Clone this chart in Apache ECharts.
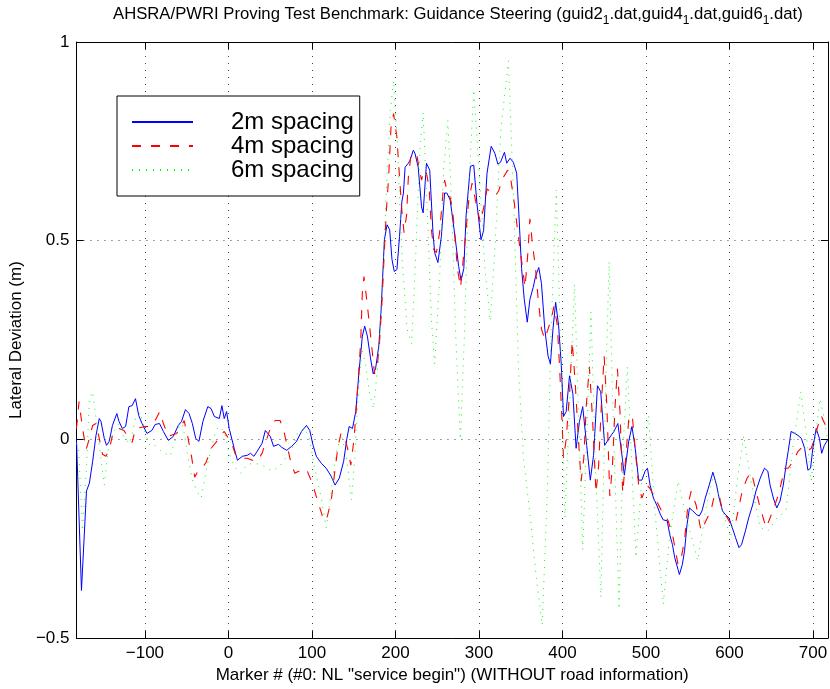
<!DOCTYPE html>
<html>
<head>
<meta charset="utf-8">
<script src="https://cdn.jsdelivr.net/npm/echarts@6/dist/echarts.min.js"></script>
<style>
  html, body { margin: 0; padding: 0; background: #fff; }
  #chart { width: 830px; height: 689px; }
</style>
</head>
<body>
<div id="chart"></div>
<script>
// Lateral deviation (m) against marker number, one list per marker spacing.
const spacing2m = [
  [-182, 0.0], [-176, -0.38], [-170, -0.13], [-166.5, -0.11], [-162.6, -0.055], [-158.6, 0.01],
  [-154.7, 0.0525], [-152.6, 0.045], [-148.7, 0.0025], [-146, -0.015], [-142.8, -0.005], [-138.9, 0.035],
  [-133.7, 0.065], [-131, 0.045], [-127.1, 0.0275], [-123.1, 0.0325], [-119.2, 0.0825], [-115.3, 0.085],
  [-111.3, 0.1025], [-107.4, 0.06], [-103.5, 0.04], [-97.6, 0.015], [-91.7, 0.0225], [-87.7, 0.0375],
  [-82.6, 0.04], [-77.9, 0.02], [-72, -0.0025], [-66, 0.0075], [-60.1, 0.035], [-56.2, 0.045],
  [-51.5, 0.075], [-47.1, 0.065], [-43.2, 0.04], [-39.2, 0.0025], [-35.3, -0.005], [-30.6, 0.045],
  [-24.7, 0.0825], [-20.8, 0.0775], [-16.8, 0.0575], [-10.9, 0.0525], [-7.8, 0.085], [-5, 0.0525],
  [-2.2, 0.07], [0.9, 0.0275], [6.9, -0.0225], [10.8, -0.0525], [16.7, -0.0425], [22.6, -0.04],
  [26.5, -0.035], [30.5, -0.0425], [34.4, -0.03], [40.3, -0.01], [44.2, 0.0225], [46.2, 0.023],
  [50.1, 0.0075], [54.1, -0.0175], [60, -0.0125], [63.9, -0.02], [69.8, -0.0275], [75.7, -0.0175],
  [81.6, -0.005], [87.5, 0.02], [93.5, 0.035], [97.4, 0.0225], [101.4, -0.015], [105.3, -0.0425],
  [111.2, -0.06], [117.1, -0.0725], [123, -0.0925], [127.7, -0.115], [132.8, -0.0975], [138, -0.055],
  [141.9, 0.0025], [144.6, 0.0325], [148.6, 0.0275], [152.5, 0.07], [156.4, 0.17], [160.4, 0.26],
  [163.2, 0.285], [166.4, 0.26], [170.3, 0.2025], [173.4, 0.165], [176.2, 0.1775], [180.1, 0.235],
  [182.9, 0.3275], [185.3, 0.435], [186.8, 0.5025], [190, 0.54], [193.1, 0.5275], [195.9, 0.4525],
  [198.6, 0.4225], [201.8, 0.4275], [204.9, 0.51], [207.7, 0.5975], [209.6, 0.62], [211.6, 0.685],
  [215.5, 0.695], [217.5, 0.7025], [221.4, 0.7275], [223.4, 0.72], [227.3, 0.685], [231.3, 0.585],
  [233.2, 0.57], [237.2, 0.695], [241.1, 0.6775], [245, 0.52], [247, 0.47], [250.9, 0.445],
  [255, 0.51], [258.9, 0.62], [261.6, 0.62], [265.6, 0.6025], [270.3, 0.5275], [275.8, 0.435],
  [278.6, 0.4], [281.9, 0.43], [284.7, 0.565], [289.8, 0.6875], [293.8, 0.69], [297.7, 0.5925],
  [302.5, 0.5025], [305.6, 0.525], [309.7, 0.67], [314.7, 0.7375], [319.1, 0.72], [322.7, 0.6925],
  [325.9, 0.6975], [330.6, 0.7225], [333.3, 0.695], [337.3, 0.7075], [341.2, 0.6975], [345.2, 0.67],
  [347.9, 0.565], [351.1, 0.43], [354.3, 0.3525], [357.9, 0.295], [361.1, 0.3525], [365, 0.3825],
  [367.8, 0.41], [371.7, 0.4325], [374.9, 0.3925], [378.9, 0.2775], [382.8, 0.21], [385.6, 0.19],
  [388.7, 0.2775], [391.9, 0.345], [395.4, 0.2875], [398.6, 0.19], [401.3, 0.0575], [404.5, 0.07],
  [408.5, 0.16], [412.5, 0.115], [416.4, -0.0225], [420.4, 0.045], [424.3, 0.0825], [428.2, 0.0025],
  [433.4, -0.1025], [437.3, -0.04], [442, 0.135], [445.9, 0.12], [450.6, -0.015], [455.8, 0.0025],
  [461.7, 0.02], [466.4, 0.04], [470.3, -0.0225], [474.2, -0.09], [479.4, -0.005], [483.3, 0.0325],
  [487.2, -0.0225], [491.3, -0.1025], [495.2, -0.1025], [499, -0.08], [501.9, -0.0725], [505, -0.115],
  [509, -0.1475], [512.9, -0.165], [517.6, -0.19], [520.8, -0.2025], [525.5, -0.205], [528.6, -0.24],
  [531.8, -0.265], [534.5, -0.2975], [538.5, -0.3275], [540.1, -0.34], [543.6, -0.315], [546.3, -0.28],
  [549.2, -0.215], [552.2, -0.1725], [556.2, -0.18], [561, -0.19], [564, -0.1925], [567.2, -0.18],
  [571.1, -0.1475], [575.8, -0.115], [580.2, -0.0825], [584.6, -0.115], [587.7, -0.1475], [591.7, -0.18],
  [595.6, -0.19], [599.5, -0.1975], [603.5, -0.2225], [607.4, -0.2475], [611.5, -0.2725], [614.5, -0.265],
  [619.2, -0.23], [623.1, -0.1975], [627.8, -0.165], [631.8, -0.13], [636.9, -0.0975], [642, -0.0725],
  [646, -0.08], [648.7, -0.115], [652.6, -0.1475], [656.7, -0.1725], [660.6, -0.155], [664.5, -0.115],
  [668.5, -0.055], [670.4, -0.03], [673.9, 0.02], [678.3, 0.015], [682.2, 0.01], [686.2, 0.0025],
  [690.1, -0.0225], [694, -0.0775], [697.2, -0.0725], [699.9, -0.0225], [703.9, 0.0275], [707.8, 0.0025],
  [710.5, -0.035], [713.7, -0.015], [718, 0.0]
];

const spacing4m = [
  [-182, 0.0275], [-178.9, 0.095], [-174.7, 0.0275], [-170.4, -0.025], [-166.5, 0.0025], [-162.6, 0.035],
  [-158.6, 0.04], [-154.7, 0.0025], [-150.8, -0.0375], [-146.7, -0.0425], [-142.8, -0.0275], [-138.9, 0.01],
  [-134.9, 0.0225], [-131, 0.0275], [-125.1, 0.0225], [-119.2, 0.0025], [-115.3, -0.0075], [-111.3, 0.0275],
  [-105.4, 0.03], [-99.5, 0.0325], [-93.6, 0.0325], [-89.7, 0.04], [-82.2, 0.07], [-77.9, 0.04],
  [-72, 0.0075], [-66, 0.0125], [-62.1, 0.015], [-56.6, 0.0325], [-53, 0.0475], [-48.3, 0.0025],
  [-44.4, -0.04], [-40.4, -0.095], [-36.5, -0.08], [-31.8, -0.0725], [-26.7, -0.0575], [-20.8, -0.0225],
  [-14.9, -0.0075], [-9, 0.0125], [-5, 0.02], [0.1, 0.0025], [4.8, -0.015], [8.7, -0.04],
  [16.7, -0.0475], [22.6, -0.0475], [28.5, -0.0525], [34.4, -0.055], [40.3, -0.035], [46.2, 0.0025],
  [50.9, 0.0325], [56, 0.0475], [61.9, 0.0475], [66.3, 0.0225], [69.8, -0.0125], [75.7, -0.065],
  [79.6, -0.085], [84, -0.08], [89.6, -0.08], [93.5, -0.075], [99.4, -0.105], [103.3, -0.13],
  [107.3, -0.1575], [113.2, -0.1975], [117.1, -0.205], [123, -0.155], [126.9, -0.09], [130.9, -0.0225],
  [134.8, 0.015], [138.4, 0.01], [142.7, -0.0225], [146.6, -0.065], [150.5, 0.0025], [154.5, 0.12],
  [158.4, 0.245], [160.4, 0.37], [162.3, 0.41], [164.9, 0.365], [168.2, 0.3025], [172.3, 0.22],
  [175, 0.165], [178.5, 0.19], [180.9, 0.24], [184.1, 0.3525], [186.8, 0.4775], [189.2, 0.5775],
  [191.9, 0.66], [194.7, 0.785], [197.8, 0.82], [199.8, 0.8175], [201.8, 0.76], [204.9, 0.66],
  [208.1, 0.565], [210.4, 0.52], [213.4, 0.565], [215.5, 0.66], [218.3, 0.71], [221.4, 0.7125],
  [225.4, 0.72], [228.1, 0.685], [231.3, 0.6525], [234.1, 0.6775], [237.2, 0.67], [240.3, 0.635],
  [243.1, 0.5275], [245.9, 0.4775], [249.1, 0.47], [252.9, 0.52], [256.9, 0.62], [258.9, 0.6525],
  [261.6, 0.6275], [264.8, 0.615], [268, 0.585], [270.7, 0.5275], [274.2, 0.43], [278, 0.3825],
  [281.9, 0.4675], [287.9, 0.6025], [291.8, 0.645], [295.8, 0.6025], [301.7, 0.545], [305.6, 0.5825],
  [309.7, 0.63], [314.7, 0.6225], [319.5, 0.6125], [323.5, 0.625], [329.4, 0.66], [334.5, 0.6775],
  [338.5, 0.65], [342.5, 0.5925], [346.4, 0.525], [351.1, 0.45], [355.2, 0.3825], [358.3, 0.46],
  [361.1, 0.555], [363.8, 0.4975], [367.8, 0.43], [371, 0.3525], [374.9, 0.2775], [378.9, 0.2525],
  [382.8, 0.2775], [386.8, 0.305], [389.9, 0.335], [393.9, 0.2875], [396.6, 0.1825], [399.5, 0.0475],
  [401.3, -0.0475], [404.5, 0.0], [408.5, 0.115], [411.7, 0.2475], [415.3, 0.1425], [419.2, 0.0],
  [422.4, -0.105], [425.6, -0.0475], [428.6, 0.085], [432.3, 0.1825], [436.2, 0.0475], [440.2, -0.135],
  [443.3, -0.0675], [446.8, 0.095], [450, 0.21], [453.2, 0.085], [456.8, -0.1425], [459.9, -0.0675],
  [463.1, 0.085], [465.9, 0.1775], [469, 0.0675], [472.2, -0.135], [475.8, -0.0475], [479.7, 0.0575],
  [483.7, 0.06], [487.6, -0.035], [491.3, -0.115], [495.2, -0.1475], [501.1, -0.115], [504.6, -0.1225],
  [510.9, -0.1475], [518.8, -0.18], [526.7, -0.205], [532.6, -0.2475], [538.5, -0.315], [542.4, -0.2975],
  [546.3, -0.2525], [550.3, -0.165], [554.2, -0.13], [560.1, -0.165], [566, -0.23], [571.9, -0.205],
  [577.8, -0.18], [581.8, -0.1425], [587.7, -0.14], [591.7, -0.18], [597.6, -0.1975], [602.7, -0.2175],
  [607.4, -0.21], [615.3, -0.13], [621.2, -0.0975], [626.3, -0.0825], [631, -0.1225], [636.9, -0.1725],
  [644, -0.2225], [651.1, -0.185], [658.6, -0.14], [666.5, -0.0725], [670.4, -0.0725], [676.3, -0.055],
  [682.2, -0.03], [688.1, -0.0175], [694, -0.0275], [698, -0.0225], [701.9, 0.0025], [705.8, 0.0325],
  [709.8, 0.06], [712.9, 0.045], [717.2, 0.0275]
];

const spacing6m = [
  [-182, -0.01], [-179.5, -0.0225], [-174.8, -0.23], [-170.1, -0.0725], [-166.5, 0.1025], [-162.6, 0.12],
  [-157, 0.0275], [-148.7, -0.115], [-142.8, -0.005], [-136.9, 0.02], [-131, 0.04], [-125.1, 0.0025],
  [-118, -0.01], [-111.3, 0.0525], [-105.4, 0.0675], [-99.5, 0.015], [-93.6, -0.0175], [-87.7, -0.015],
  [-81.8, -0.0275], [-75.9, -0.035], [-69.9, -0.0425], [-64, -0.0025], [-58.1, 0.04], [-54.2, 0.0325],
  [-48.3, -0.0475], [-43.6, -0.0975], [-38.5, -0.1275], [-32.6, -0.1475], [-26.7, -0.08], [-20.8, -0.0225],
  [-14.9, 0.0225], [-10.9, 0.0325], [-5, 0.02], [0.9, -0.035], [6.9, -0.0675], [14.7, -0.085],
  [22.6, -0.0625], [32.4, -0.06], [42.7, -0.0675], [52.1, -0.08], [61.6, -0.0675], [69.8, -0.0425],
  [75.7, -0.0275], [83.6, 0.02], [91.4, 0.0275], [97, 0.0025], [103.3, -0.0725], [111.2, -0.1475],
  [117.1, -0.2225], [123, -0.135], [127.7, -0.0475], [134.8, 0.0125], [140.7, -0.035], [147.4, -0.1525],
  [151.3, -0.0475], [154.5, 0.0775], [159.6, 0.2275], [164.3, 0.19], [169.1, 0.115], [173.8, 0.0775],
  [179.7, 0.2025], [184.4, 0.4025], [189.2, 0.6275], [193.9, 0.8275], [197.8, 0.9025], [202.1, 0.7525],
  [208.1, 0.4525], [214, 0.2775], [219.5, 0.24], [224.6, 0.4775], [229.3, 0.7275], [233.2, 0.8225],
  [237.6, 0.6025], [243.1, 0.3025], [247, 0.19], [252.9, 0.4025], [257.7, 0.6775], [262.8, 0.8025],
  [267.1, 0.6025], [271.9, 0.2775], [277.8, 0.0], [282.5, 0.2525], [287.2, 0.6025], [293.8, 0.88],
  [300.2, 0.6775], [307.3, 0.4275], [313.6, 0.2975], [319.1, 0.4775], [326.2, 0.7775], [335.3, 0.9525],
  [341.6, 0.6025], [347.5, 0.1725], [353.4, -0.0475], [361.6, -0.1975], [368.7, -0.3475], [375.8, -0.4675],
  [381.7, -0.1475], [386.5, 0.2775], [392.7, 0.6275], [398.3, 0.2025], [403, -0.1975], [408.9, 0.1025],
  [414.5, 0.39], [419.5, 0.0525], [424.3, -0.2775], [429, 0.0025], [434.2, 0.32], [439.6, -0.0725],
  [446.1, -0.3975], [450.3, 0.0025], [455.9, 0.4475], [460.9, 0.0525], [467.9, -0.4275], [472.7, -0.0225],
  [477.8, 0.1825], [483.3, -0.0725], [488.1, -0.2975], [495.2, -0.0975], [503.1, 0.06], [510.5, -0.1725],
  [520.8, -0.415], [528.2, -0.2475], [538.5, -0.105], [548.3, -0.1975], [562.1, -0.305], [571.9, -0.1725],
  [581.4, -0.085], [590.9, -0.1725], [601.5, -0.2475], [609.8, -0.0975], [617.2, 0.01], [625.1, -0.0975],
  [636.9, -0.2225], [646.4, -0.23], [657, -0.1975], [667.7, -0.18], [675.9, -0.0225], [685.4, 0.12],
  [691.3, 0.0275], [698, -0.105], [703, 0.0025], [708.3, 0.1025], [713.6, 0.0525], [717.2, 0.0025]
];

// Axis layout
const markerRange = [-182, 718];
const markerStep = 100;
const deviationRange = [-0.5, 1];
const deviationStep = 0.5;

const seriesNames = ['2m spacing', '4m spacing', '6m spacing'];

const FONT = '"Liberation Sans", Arial, Helvetica, sans-serif';
const minus = v => (v < 0 ? '\u2212' + Math.abs(v) : String(v));
const gridDots = { color: '#444', width: 1, type: [1, 6] };
const boxLine = { onZero: false, lineStyle: { color: '#000', width: 1 } };
const innerTick = { show: true, inside: true, length: 7, lineStyle: { color: '#000' } };

const chart = echarts.init(document.getElementById('chart'), null, { renderer: 'canvas' });

chart.setOption({
  animation: false,
  backgroundColor: '#fff',
  textStyle: { fontFamily: FONT },
  title: {
    text: '{m|AHSRA/PWRI Proving Test Benchmark: Guidance Steering (guid2}{s|1}{m|.dat,guid4}{s|1}{m|.dat,guid6}{s|1}{m|.dat)}',
    left: 113,
    top: 6,
    padding: 0,
    textStyle: {
      fontWeight: 'normal',
      rich: {
        m: { fontFamily: FONT, fontSize: 16.7, fontWeight: 'normal', color: '#000', lineHeight: 18, verticalAlign: 'top' },
        s: { fontFamily: FONT, fontSize: 12, fontWeight: 'normal', color: '#000', lineHeight: 12, verticalAlign: 'top', padding: [9, 0, 0, 0] }
      }
    }
  },
  legend: {
    data: seriesNames,
    orient: 'vertical',
    left: 117,
    top: 96,
    backgroundColor: '#fff',
    borderColor: '#000',
    borderWidth: 1,
    borderRadius: 0,
    padding: [14, 6, 14, 14],
    itemWidth: 61,
    itemHeight: 14,
    itemGap: 0,
    selectedMode: false,
    itemStyle: { opacity: 0 },
    textStyle: { fontFamily: FONT, fontSize: 24, color: '#000', lineHeight: 24, padding: [0, 0, 0, 33] }
  },
  grid: { left: 72, right: -4, top: 42, bottom: 48, containLabel: false },
  xAxis: [
    {
      type: 'value',
      min: markerRange[0],
      max: markerRange[1],
      splitNumber: 9,
      minInterval: markerStep,
      maxInterval: markerStep,
      name: 'Marker # (#0: NL "service begin") (WITHOUT road information)',
      nameLocation: 'middle',
      nameGap: 27,
      nameTextStyle: { fontFamily: FONT, fontSize: 17, color: '#000' },
      axisLine: boxLine,
      axisTick: innerTick,
      axisLabel: {
        fontFamily: FONT, fontSize: 17, color: '#000', margin: 7,
        showMinLabel: false, showMaxLabel: false,
        formatter: v => (v % markerStep === 0 ? minus(v) : '')
      },
      splitLine: { show: true, lineStyle: gridDots }
    },
    {
      type: 'value',
      position: 'top',
      min: markerRange[0],
      max: markerRange[1],
      splitNumber: 9,
      minInterval: markerStep,
      maxInterval: markerStep,
      axisLine: boxLine,
      axisTick: innerTick,
      axisLabel: { show: false },
      splitLine: { show: false }
    }
  ],
  yAxis: [
    {
      type: 'value',
      min: deviationRange[0],
      max: deviationRange[1],
      interval: deviationStep,
      name: 'Lateral Deviation (m)',
      nameLocation: 'middle',
      nameGap: 30,
      nameTextStyle: { fontFamily: FONT, fontSize: 17, color: '#000' },
      axisLine: Object.assign({ show: true }, boxLine),
      axisTick: innerTick,
      axisLabel: { fontFamily: FONT, fontSize: 17, color: '#000', margin: 7, formatter: v => minus(v) },
      splitLine: { show: true, lineStyle: gridDots }
    },
    {
      type: 'value',
      position: 'right',
      min: deviationRange[0],
      max: deviationRange[1],
      interval: deviationStep,
      axisLine: Object.assign({ show: true }, boxLine),
      axisTick: innerTick,
      axisLabel: { show: false },
      splitLine: { show: false }
    }
  ],
  series: [
    {
      name: seriesNames[0], type: 'line', data: spacing2m, symbol: 'none', z: 3,
      lineStyle: { color: '#0000ff', width: 1, type: 'solid' },
      itemStyle: { color: '#0000ff' }
    },
    {
      name: seriesNames[1], type: 'line', data: spacing4m, symbol: 'none', z: 4,
      lineStyle: { color: '#ff0000', width: 1.1, type: [9, 10] },
      itemStyle: { color: '#ff0000' }
    },
    {
      name: seriesNames[2], type: 'line', data: spacing6m, symbol: 'none', z: 5,
      lineStyle: { color: '#00ff00', width: 1, type: [1, 6] },
      itemStyle: { color: '#00ff00' }
    }
  ]
});
</script>
</body>
</html>
